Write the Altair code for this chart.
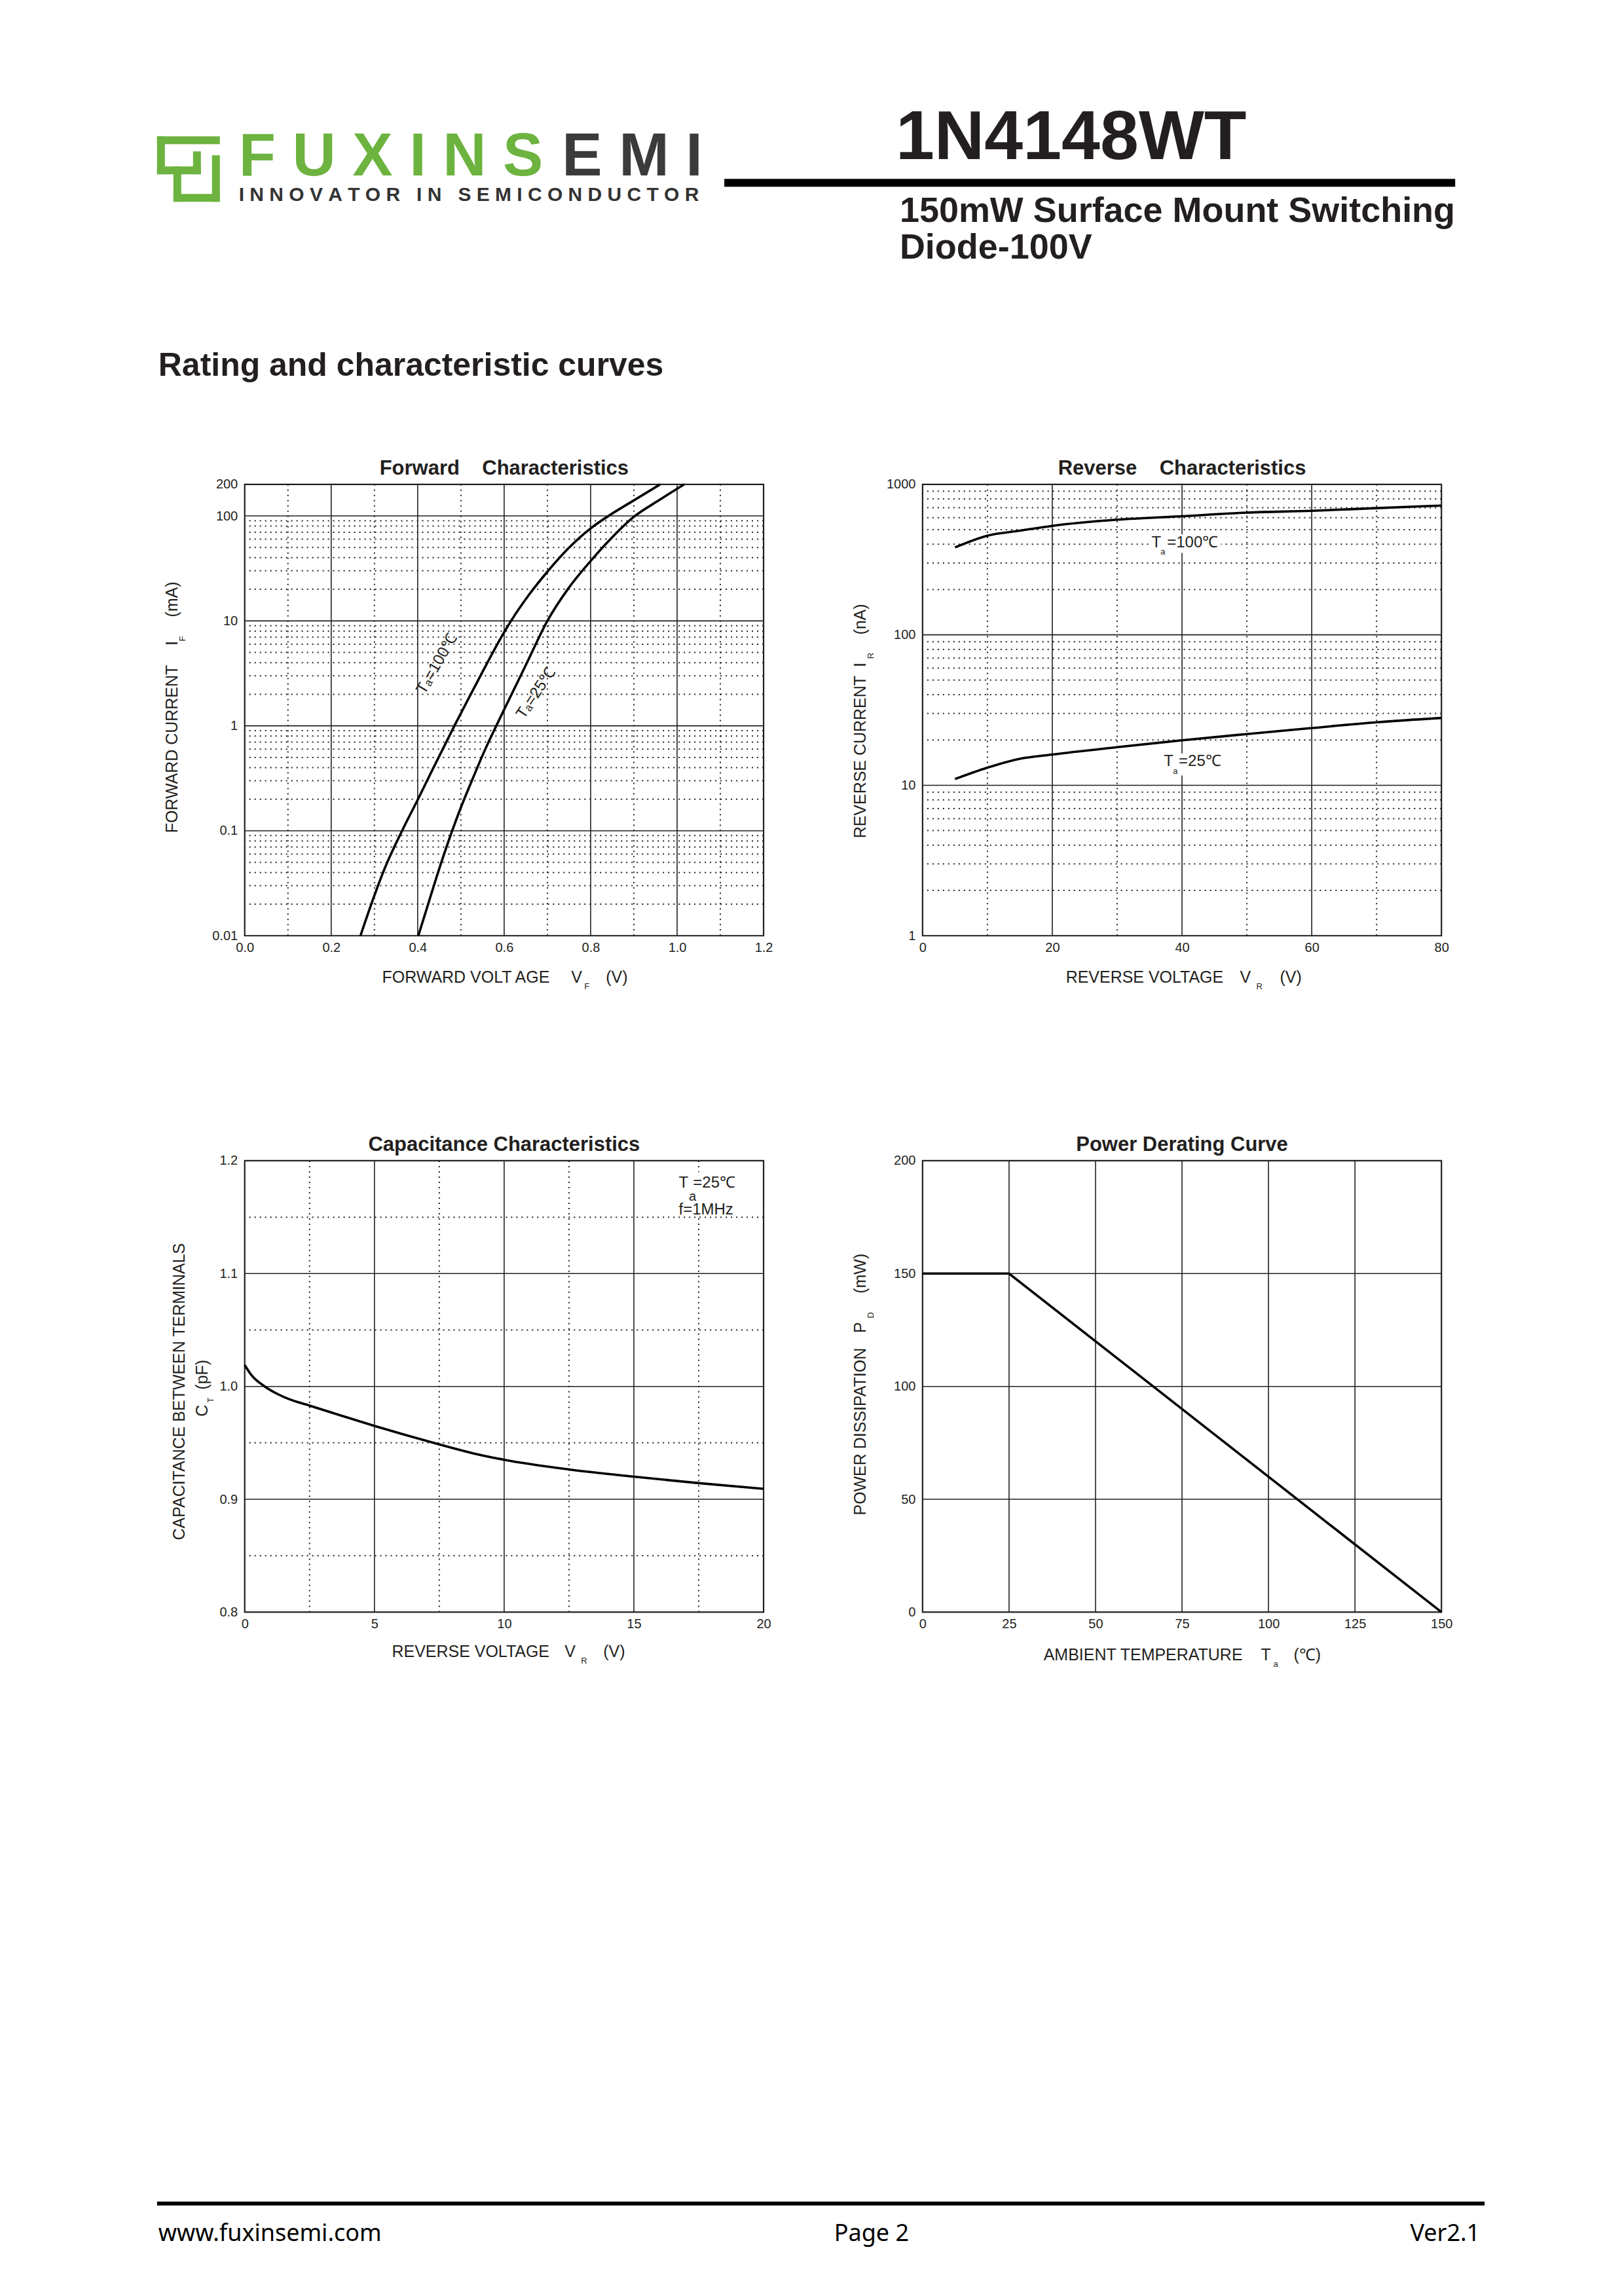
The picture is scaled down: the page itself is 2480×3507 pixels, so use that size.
import altair as alt
import pandas as pd

INK = "#231f20"
GREEN = "#6db33f"
FONT = "Liberation Sans"
NB = "\u00a0"
W, H = 793, 690

# ---------------- data ----------------
# Forward characteristics (VF in V, IF in mA)
fwd_v_100 = [0.2677, 0.30, 0.323, 0.366, 0.40, 0.434, 0.485, 0.52, 0.556, 0.60, 0.616, 0.656, 0.70, 0.747, 0.80, 0.843, 0.898, 0.961]
fwd_i_100 = [0.01, 0.0242, 0.043, 0.104, 0.197, 0.38, 1.0, 1.9, 3.64, 7.8, 10, 17.4, 29.4, 48.4, 76.1, 101, 139, 200]
fwd_v_25 = [0.4015, 0.4242, 0.4444, 0.4798, 0.50, 0.5253, 0.5556, 0.5818, 0.60, 0.65, 0.70, 0.747, 0.80, 0.848, 0.898, 0.9587, 1.0166]
fwd_i_25 = [0.01, 0.02, 0.037, 0.1, 0.167, 0.30, 0.59, 1.0, 1.43, 3.78, 10, 20, 37.2, 61.4, 96.6, 141.6, 200]
fwd_x_labels = [0.0, 0.2, 0.4, 0.6, 0.8, 1.0, 1.2]
fwd_y_labels = [0.01, 0.1, 1, 10, 100, 200]
fwd_x_major = [0.2, 0.4, 0.6, 0.8, 1.0]
fwd_x_minor = [0.1, 0.3, 0.5, 0.7, 0.9, 1.1]
fwd_y_major = [0.1, 1, 10, 100]
fwd_y_minor = [0.02, 0.03, 0.04, 0.05, 0.06, 0.07, 0.08, 0.09,
               0.2, 0.3, 0.4, 0.5, 0.6, 0.7, 0.8, 0.9,
               2, 3, 4, 5, 6, 7, 8, 9,
               20, 30, 40, 50, 60, 70, 80, 90]

# Reverse characteristics (VR in V, IR in nA)
rev_v = [5, 10, 15, 20, 30, 40, 50, 60, 70, 80]
rev_i_100 = [381, 456, 492, 530, 582, 614, 649, 667, 695, 723]
rev_i_25 = [11.0, 13.1, 15.0, 16.0, 17.9, 19.9, 21.9, 24.0, 26.2, 28.0]
rev_x_labels = [0, 20, 40, 60, 80]
rev_y_labels = [1, 10, 100, 1000]
rev_x_major = [20, 40, 60]
rev_x_minor = [10, 30, 50, 70]
rev_y_major = [10, 100]
rev_y_minor = [2, 3, 4, 5, 6, 7, 8, 9,
               20, 30, 40, 50, 60, 70, 80, 90,
               200, 300, 400, 500, 600, 700, 800, 900]

# Capacitance characteristics (VR in V, CT in pF)
cap_v = [0, 0.26, 0.77, 1.29, 1.68, 2.5, 3.74, 5, 6.19, 7.5, 8.76, 10, 12.5, 15, 17.5, 20]
cap_c = [1.019, 1.010, 1.0, 0.993, 0.989, 0.983, 0.974, 0.965, 0.957, 0.9486, 0.941, 0.935, 0.9264, 0.920, 0.9143, 0.9093]
cap_x_labels = [0, 5, 10, 15, 20]
cap_y_labels = [0.8, 0.9, 1.0, 1.1, 1.2]
cap_x_major = [5, 10, 15]
cap_x_minor = [2.5, 7.5, 12.5, 17.5]
cap_y_major = [0.9, 1.0, 1.1]
cap_y_minor = [0.85, 0.95, 1.05, 1.15]

# Power derating (Ta in degC, PD in mW)
pow_t = [0, 25, 150]
pow_p = [150, 150, 0]
pow_x_labels = [0, 25, 50, 75, 100, 125, 150]
pow_y_labels = [0, 50, 100, 150, 200]
pow_x_major = [25, 50, 75, 100, 125]
pow_y_major = [50, 100, 150]

ONE = pd.DataFrame({"k": [0]})


# ---------------- helpers ----------------
def t(s, x, y, size=25, angle=0, align="left", baseline="alphabetic", weight="normal", color=INK, font=FONT):
    return alt.Chart(ONE).mark_text(
        text=s, fontSize=size, angle=angle, align=align, baseline=baseline,
        fontWeight=weight, color=color, font=font
    ).encode(x=alt.value(x), y=alt.value(y))


def box(x1, y1, x2, y2, color):
    return alt.Chart(ONE).mark_rect(color=color).encode(
        x=alt.value(x1), x2=alt.value(x2), y=alt.value(y1), y2=alt.value(y2))


def hline(x1, x2, y, w, color="black"):
    return alt.Chart(ONE).mark_rule(color=color, strokeWidth=w).encode(
        x=alt.value(x1), x2=alt.value(x2), y=alt.value(y))


def rules(values, ch, scale, axis, dotted):
    kw = dict(color=INK, strokeWidth=1.6)
    if dotted:
        kw = dict(color=INK, strokeWidth=2.0, strokeDash=[2, 6])
    if ch == "x":
        enc = {"x": alt.X("v:Q", scale=scale, axis=axis)}
    else:
        enc = {"y": alt.Y("v:Q", scale=scale, axis=axis)}
    return alt.Chart(pd.DataFrame({"v": values})).mark_rule(**kw).encode(**enc)


def curve(xs, ys, sx, sy, ax, ay, interp="monotone"):
    df = pd.DataFrame({"x": xs, "y": ys})
    return alt.Chart(df).mark_line(color="black", strokeWidth=3.6, interpolate=interp).encode(
        x=alt.X("x:Q", scale=sx, axis=ax), y=alt.Y("y:Q", scale=sy, axis=ay))


def dtext(s, x, y, sx, sy, ax, ay, size=24, angle=0, align="left", baseline="middle"):
    df = pd.DataFrame({"x": [x], "y": [y]})
    return alt.Chart(df).mark_text(
        text=s, fontSize=size, angle=angle, align=align, baseline=baseline, font=FONT, color=INK
    ).encode(x=alt.X("x:Q", scale=sx, axis=ax), y=alt.Y("y:Q", scale=sy, axis=ay))


def label_bg(x1, x2, y1, y2, sx, sy, ax, ay):
    df = pd.DataFrame({"x1": [x1], "x2": [x2], "y1": [y1], "y2": [y2]})
    return alt.Chart(df).mark_rect(color="white").encode(
        x=alt.X("x1:Q", scale=sx, axis=ax), x2="x2:Q",
        y=alt.Y("y1:Q", scale=sy, axis=ay), y2="y2:Q")


def panel(sx, sy, ax, ay, xmaj, xmin, ymaj, ymin, extra):
    layers = []
    if xmin:
        layers.append(rules(xmin, "x", sx, ax, True))
    if ymin:
        layers.append(rules(ymin, "y", sy, ay, True))
    layers.append(rules(xmaj, "x", sx, ax, False))
    layers.append(rules(ymaj, "y", sy, ay, False))
    layers += extra
    return alt.layer(*layers).properties(
        width=W, height=H, view=alt.ViewBackground(stroke=INK, strokeWidth=2.2))


def blank(w, h):
    return alt.Chart(ONE).mark_text(text=" ").encode(
        x=alt.value(0), y=alt.value(0)).properties(width=w, height=h)


# ---------------- Forward ----------------
fsx = alt.Scale(domain=[0, 1.2], nice=False, zero=False)
fsy = alt.Scale(type="log", domain=[0.01, 200], nice=False)
fax = alt.Axis(values=fwd_x_labels, format=".1f", title=None, labelPadding=8)
fay = alt.Axis(values=fwd_y_labels, format="~g", title=None, labelPadding=11)
fwd = panel(fsx, fsy, fax, fay, fwd_x_major, fwd_x_minor, fwd_y_major, fwd_y_minor, [
    curve(fwd_v_100, fwd_i_100, fsx, fsy, fax, fay),
    curve(fwd_v_25, fwd_i_25, fsx, fsy, fax, fay),
    dtext("T\u2090=100\u2103", 0.445, 3.9, fsx, fsy, fax, fay, angle=300, align="center"),
    dtext("T\u2090=25\u2103", 0.674, 2.05, fsx, fsy, fax, fay, angle=304, align="center"),
    t("Forward" + NB * 4 + "Characteristics", W / 2, -15, size=31, align="center", weight="bold"),
    t("FORWARD VOLT AGE", 210, 762),
    t("V", 499, 762),
    t("F", 519, 772, size=13),
    t("(V)", 552, 762),
    t("FORWARD CURRENT", -111, 533, angle=270, baseline="middle"),
    t("I", -111, 243, angle=270, align="center", baseline="middle"),
    t("F", -95, 236, size=13, angle=270, align="center", baseline="middle"),
    t("(mA)", -111, 203, angle=270, baseline="middle"),
])

# ---------------- Reverse ----------------
rsx = alt.Scale(domain=[0, 80], nice=False, zero=False)
rsy = alt.Scale(type="log", domain=[1, 1000], nice=False)
rax = alt.Axis(values=rev_x_labels, format="d", title=None, labelPadding=8)
ray = alt.Axis(values=rev_y_labels, format="~g", title=None, labelPadding=11)
rev = panel(rsx, rsy, rax, ray, rev_x_major, rev_x_minor, rev_y_major, rev_y_minor, [
    label_bg(35.0, 46.0, 350, 465, rsx, rsy, rax, ray),
    label_bg(36.9, 46.6, 11.6, 16.3, rsx, rsy, rax, ray),
    curve(rev_v, rev_i_100, rsx, rsy, rax, ray),
    curve(rev_v, rev_i_25, rsx, rsy, rax, ray),
    dtext("T", 35.3, 409, rsx, rsy, rax, ray),
    dtext("a", 36.7, 357, rsx, rsy, rax, ray, size=13),
    dtext("=100\u2103", 37.7, 409, rsx, rsy, rax, ray),
    dtext("T", 37.2, 14.4, rsx, rsy, rax, ray),
    dtext("a", 38.6, 12.4, rsx, rsy, rax, ray, size=13),
    dtext("=25\u2103", 39.5, 14.4, rsx, rsy, rax, ray),
    t("Reverse" + NB * 4 + "Characteristics", W / 2, -15, size=31, align="center", weight="bold"),
    t("REVERSE VOLTAGE", 219, 762),
    t("V", 485, 762),
    t("R", 510, 772, size=13),
    t("(V)", 546, 762),
    t("REVERSE CURRENT", -95, 541, angle=270, baseline="middle"),
    t("I", -95, 276, angle=270, align="center", baseline="middle"),
    t("R", -79, 262, size=13, angle=270, align="center", baseline="middle"),
    t("(nA)", -95, 230, angle=270, baseline="middle"),
])

# ---------------- Capacitance ----------------
csx = alt.Scale(domain=[0, 20], nice=False, zero=False)
csy = alt.Scale(domain=[0.8, 1.2], nice=False, zero=False)
cax = alt.Axis(values=cap_x_labels, format="d", title=None, labelPadding=8)
cay = alt.Axis(values=cap_y_labels, format=".1f", title=None, labelPadding=11)
cap = panel(csx, csy, cax, cay, cap_x_major, cap_x_minor, cap_y_major, cap_y_minor, [
    label_bg(16.6, 19.1, 1.152, 1.19, csx, csy, cax, cay),
    curve(cap_v, cap_c, csx, csy, cax, cay),
    dtext("T", 16.73, 1.1800, csx, csy, cax, cay),
    dtext("a", 17.12, 1.1680, csx, csy, cax, cay, size=20),
    dtext("=25\u2103", 17.28, 1.1800, csx, csy, cax, cay),
    dtext("f=1MHz", 16.73, 1.1565, csx, csy, cax, cay),
    t("Capacitance Characteristics", W / 2, -15, size=31, align="center", weight="bold"),
    t("REVERSE VOLTAGE", 225, 759),
    t("V", 489, 759),
    t("R", 514, 769, size=13),
    t("(V)", 548, 759),
    t("CAPACITANCE BETWEEN TERMINALS", -100, 580, angle=270, baseline="middle"),
    t("C", -65, 382, angle=270, align="center", baseline="middle"),
    t("T", -52, 366, size=13, angle=270, align="center", baseline="middle"),
    t("(pF)", -65, 350, angle=270, baseline="middle"),
])

# ---------------- Power derating ----------------
psx = alt.Scale(domain=[0, 150], nice=False, zero=False)
psy = alt.Scale(domain=[0, 200], nice=False, zero=False)
pax = alt.Axis(values=pow_x_labels, format="d", title=None, labelPadding=8)
pay = alt.Axis(values=pow_y_labels, format="d", title=None, labelPadding=11)
pw = panel(psx, psy, pax, pay, pow_x_major, [], pow_y_major, [], [
    curve(pow_t, pow_p, psx, psy, pax, pay, interp="linear"),
    t("Power Derating Curve", W / 2, -15, size=31, align="center", weight="bold"),
    t("AMBIENT TEMPERATURE", 185, 764),
    t("T", 517, 764),
    t("a", 536, 774, size=13),
    t("(\u2103)", 567, 764),
    t("POWER DISSIPATION", -95, 542, angle=270, baseline="middle"),
    t("P", -95, 255, angle=270, align="center", baseline="middle"),
    t("D", -79, 236, size=13, angle=270, align="center", baseline="middle"),
    t("(mW)", -95, 203, angle=270, baseline="middle"),
])

# ---------------- Header ----------------
logo_word = NB.join("FUXINS")
innov = (NB * 3).join([NB.join(w) for w in ["INNOVATOR", "IN", "SEMICONDUCTOR"]])
header = alt.layer(
    box(231, 198, 327, 210, GREEN),
    box(231, 198, 243, 256, GREEN),
    box(231, 244, 298, 256, GREEN),
    box(286, 221, 298, 256, GREEN),
    box(315, 227, 327, 298, GREEN),
    box(256, 286, 327, 298, GREEN),
    box(256, 244, 268, 298, GREEN),
    t(logo_word, 356, 258, size=92, weight="bold", color=GREEN),
    t(NB.join("EMI"), 850, 258, size=92, weight="bold", color="#3b3b3b"),
    t(innov, 356, 297, size=30, weight="bold", color="#333333"),
    t("1N4148WT", 1360, 233, size=106, weight="bold"),
    hline(1098, 2215, 269, 12),
    t("150mW Surface Mount Switching", 1366, 329, size=54, weight="bold"),
    t("Diode-100V", 1366, 385, size=54, weight="bold"),
    t("Rating and characteristic curves", 233, 564, size=50, weight="bold"),
).properties(width=2464, height=730)

# ---------------- Footer ----------------
footer = alt.layer(
    hline(231, 2260, 560, 6),
    t("www.fuxinsemi.com", 233, 617, size=36, font="Noto Sans", color="black"),
    t("Page 2", 1323, 617, size=36, font="Noto Sans", color="black", align="center"),
    t("Ver2.1", 2253, 617, size=36, font="Noto Sans", color="black", align="right"),
).properties(width=2464, height=640)

row1 = alt.hconcat(blank(122, H), fwd, rev, spacing=243, bounds="flush")
row2 = alt.hconcat(blank(122, H), cap, pw, spacing=243, bounds="flush")

# nested rows count as zero height in a flush layout, so explicit gap rows set the pitch
chart = alt.vconcat(header, row1, blank(10, 1034), row2, blank(10, 1034), footer,
                    spacing=0, bounds="flush").properties(
    padding=0, background="white"
).configure_view(stroke="transparent").configure_axis(
    labelFont=FONT, labelFontSize=20, labelColor=INK, ticks=False, domain=False,
    grid=False, labelFlush=False, labelOverlap=False
)

chart.save("out.html", embed_options={"renderer": "svg", "actions": False})
